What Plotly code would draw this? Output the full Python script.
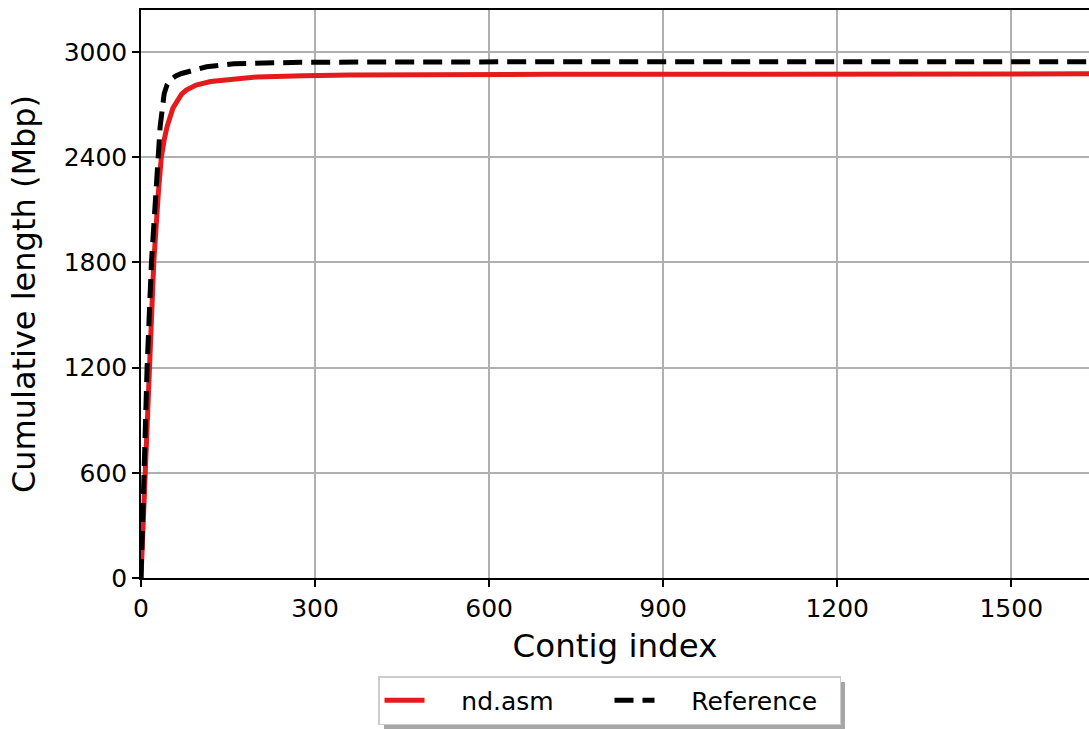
import plotly.graph_objects as go

# Data
asm_index = [0, 7, 13, 22, 30, 35, 40, 45, 55, 63, 70, 78, 95, 120, 160, 200, 280, 360, 700, 1100, 1700]
asm_cumlen = [0, 600, 1200, 1800, 2200, 2400, 2500, 2575, 2680, 2726, 2760, 2783, 2812, 2832, 2848, 2858, 2865, 2869, 2873, 2875, 2876]

ref_index = [0, 5, 10.5, 18, 28, 33, 40, 45, 50, 60, 70, 92, 113, 160, 275, 500, 1000, 1700]
ref_cumlen = [0, 600, 1200, 1800, 2400, 2575, 2764, 2815, 2840, 2864, 2878, 2897, 2916, 2933, 2942, 2944, 2945, 2945]

x_ticks = [0, 300, 600, 900, 1200, 1500]
y_ticks = [0, 600, 1200, 1800, 2400, 3000]

W, H = 1089, 729
L, R, T, B = 141, 0, 10, 151
pw, ph = W - L - R, H - T - B

def px_x(p):
    return (p - L) / pw

def px_y(p):
    return (H - B - p) / ph

font = "DejaVu Sans"
NB = "\u00a0"

fig = go.Figure()
fig.add_trace(go.Scatter(x=asm_index, y=asm_cumlen, mode="lines", name=NB * 4 + "nd.asm",
                         line=dict(color="#e41a1c", width=5)))
fig.add_trace(go.Scatter(x=ref_index, y=ref_cumlen, mode="lines", name=NB * 4 + "Reference",
                         line=dict(color="black", width=5, dash="19px,9px")))

# legend shadow
fig.add_shape(type="rect", xref="paper", yref="paper",
              x0=px_x(384), x1=px_x(845), y0=px_y(729), y1=px_y(682),
              fillcolor="#a6a6a6", line=dict(width=0), layer="below")

fig.update_layout(
    width=W, height=H,
    margin=dict(l=L, r=R, t=T, b=B),
    plot_bgcolor="white", paper_bgcolor="white",
    font=dict(family=font, size=25, color="black"),
    showlegend=True,
    legend=dict(orientation="h", x=px_x(378), y=px_y(676), xanchor="left", yanchor="top",
                bgcolor="white", bordercolor="#cccccc", borderwidth=1.5,
                font=dict(family=font, size=25), entrywidth=175, itemwidth=40),
    xaxis=dict(range=[0, 1634], tickvals=x_ticks, ticktext=[str(v) for v in x_ticks],
               showgrid=True, gridcolor="#b0b0b0", gridwidth=1.5,
               showline=True, linecolor="black", linewidth=1.5, mirror=True,
               ticks="outside", ticklen=7, tickwidth=1.5, tickcolor="black",
               tickfont=dict(size=25), zeroline=False,
               title=dict(text="Contig index", font=dict(size=32.5), standoff=12)),
    yaxis=dict(range=[0, 3240], tickvals=y_ticks, ticktext=[str(v) for v in y_ticks],
               showgrid=True, gridcolor="#b0b0b0", gridwidth=1.5,
               showline=True, linecolor="black", linewidth=1.5, mirror=False,
               ticks="outside", ticklen=7, tickwidth=1.5, tickcolor="black",
               tickfont=dict(size=25), zeroline=False,
               title=dict(text="Cumulative length (Mbp)", font=dict(size=32), standoff=18)),
)

fig.write_html("out.html", config={"displayModeBar": False},
               post_script="document.body.style.margin='0';document.body.style.overflow='hidden';")
